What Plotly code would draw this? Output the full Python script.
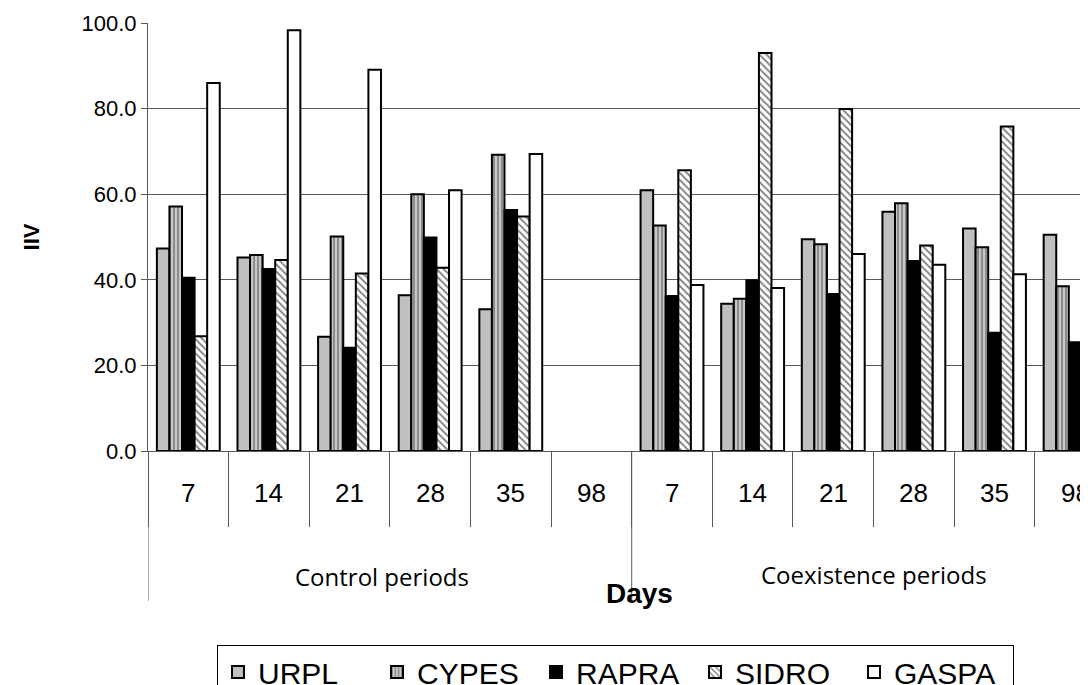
import plotly.graph_objects as go

# ---- data ----
periods = ["Control periods", "Coexistence periods"]
days = ["7", "14", "21", "28", "35", "98"]
series_names = ["URPL", "CYPES", "RAPRA", "SIDRO", "GASPA"]
URPL = [47.3, 45.2, 26.7, 36.4, 33.1, None, 60.9, 34.4, 49.5, 55.9, 52.0, 50.5]
CYPES = [57.1, 45.8, 50.1, 60.0, 69.2, None, 52.7, 35.6, 48.3, 57.9, 47.6, 38.5]
RAPRA = [40.5, 42.5, 24.1, 49.9, 56.3, None, 36.2, 39.9, 36.7, 44.4, 27.6, 25.4]
SIDRO = [26.8, 44.6, 41.5, 42.8, 54.8, None, 65.6, 93.0, 79.9, 48.0, 75.8, 94.5]
GASPA = [86.0, 98.3, 89.1, 60.9, 69.4, None, 38.8, 38.1, 46.0, 43.5, 41.3, None]
y_ticks = [0, 20, 40, 60, 80, 100]

cats = [f"{p} {d}" for p in periods for d in days]
day_labels = [d for p in periods for d in days]

FONT = "Liberation Sans, Arial, sans-serif"
GRID = "#5a5a5a"

# page geometry (the page body adds an 8px offset)
OFF = 8
W, H = 1088 - OFF, 685 - OFF
PLOT_LEFT = 148
PLOT_TOP, PLOT_BOT = 23, 451
PH = PLOT_BOT - PLOT_TOP
PW = 1088 - PLOT_LEFT
def py(pix):
    return (PLOT_BOT - pix) / PH
def px(pix):
    return (pix - PLOT_LEFT) / PW

styles = {
    "URPL": dict(color="#c0c0c0"),
    "CYPES": dict(color="#c0c0c0",
                  pattern=dict(shape="|", bgcolor="#c8c8c8", fgcolor="black", size=4, solidity=0.3)),
    "RAPRA": dict(color="black"),
    "SIDRO": dict(color="white",
                  pattern=dict(shape="\\", bgcolor="white", fgcolor="black", size=5, solidity=0.35)),
    "GASPA": dict(color="white"),
}
values = {"URPL": URPL, "CYPES": CYPES, "RAPRA": RAPRA, "SIDRO": SIDRO, "GASPA": GASPA}

fig = go.Figure()
for name in series_names:
    m = dict(styles[name])
    m["line"] = dict(color="black", width=2)
    fig.add_trace(go.Bar(x=cats, y=values[name], name=name, marker=m))

fig.update_layout(
    width=W, height=H,
    margin=dict(l=PLOT_LEFT - OFF, r=0, t=PLOT_TOP - OFF, b=H - (PLOT_BOT - OFF), autoexpand=False),
    paper_bgcolor="white", plot_bgcolor="white",
    barmode="group", bargap=0.22, bargroupgap=0,
    font=dict(family=FONT, color="black"),
    showlegend=True,
    legend=dict(
        orientation="h", x=px(217), xanchor="left", y=py(645), yanchor="top",
        bordercolor="black", borderwidth=1, bgcolor="white",
        font=dict(family=FONT, size=30, color="black"),
        entrywidth=114, entrywidthmode="pixels",
        itemclick=False, itemdoubleclick=False,
    ),
)

fig.update_xaxes(
    type="category", categoryorder="array", categoryarray=cats,
    range=[-0.5, 11.16],
    showticklabels=False,
    showline=True, linecolor=GRID, linewidth=1,
    ticks="outside", tickson="boundaries", ticklen=75, tickcolor=GRID, tickwidth=1,
    showgrid=False, zeroline=False,
)
fig.update_yaxes(
    range=[0, 100], tickvals=y_ticks, ticktext=[f"{v:.1f}" for v in y_ticks],
    showgrid=True, gridcolor=GRID, gridwidth=1,
    showline=True, linecolor=GRID, linewidth=1,
    ticks="outside", ticklen=6, tickcolor=GRID,
    tickfont=dict(family=FONT, size=22, color="black"),
    zeroline=False,
    title=dict(text="<b>IIV</b>", font=dict(family=FONT, size=22, color="black"), standoff=35),
)

# day labels
for i, d in enumerate(day_labels):
    fig.add_annotation(x=cats[i], y=py(493), xref="x", yref="paper", text=d,
                       showarrow=False, font=dict(family=FONT, size=26, color="black"),
                       xanchor="center", yanchor="middle")

# long group dividers
for b in [-0.5, 5.5]:
    fig.add_shape(type="line", xref="x", yref="paper", x0=b, x1=b, y0=0, y1=py(601),
                  line=dict(color=GRID, width=1))

# period labels
fig.add_annotation(x=2.4, y=py(576), xref="x", yref="paper", text=periods[0],
                   showarrow=False, font=dict(family="Open Sans, sans-serif", size=24, color="black"),
                   xanchor="center", yanchor="middle")
fig.add_annotation(x=8.5, y=py(574), xref="x", yref="paper", text=periods[1],
                   showarrow=False, font=dict(family="Open Sans, sans-serif", size=24, color="black"),
                   xanchor="center", yanchor="middle")
# x axis title
fig.add_annotation(x=5.6, y=py(593), xref="x", yref="paper", text="<b>Days</b>",
                   showarrow=False, font=dict(family=FONT, size=28, color="black"),
                   xanchor="center", yanchor="middle")

fig.write_html("out.html")
